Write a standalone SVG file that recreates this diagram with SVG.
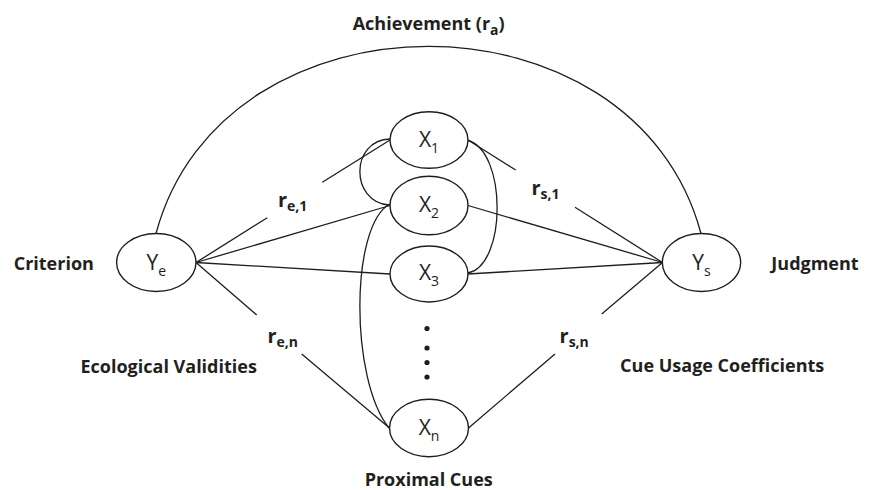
<svg xmlns="http://www.w3.org/2000/svg" width="875" height="490" viewBox="0 0 875 490">
  <style>
    .node ellipse { fill: #ffffff; stroke: #1e1e1e; stroke-width: 1.4; }
    .link { fill: none; stroke: #1e1e1e; stroke-width: 1.3; }
    .nlabel { font-family: "Open Sans", "Liberation Sans", sans-serif; font-size: 21px; fill: #231f20; text-anchor: middle; }
    .nsub { font-size: 14px; }
    .title { font-family: "Open Sans", "Liberation Sans", sans-serif; font-weight: bold; font-size: 18px; fill: #231f20; text-anchor: middle; }
    .coef { font-family: "Open Sans", "Liberation Sans", sans-serif; font-weight: bold; font-size: 20px; fill: #231f20; text-anchor: middle; }
    .csub { font-size: 14px; }
    .dot { fill: #1e1e1e; }
  </style>

  <!-- connectors -->
  <g id="connectors">
    <!-- achievement arc between criterion and judgment -->
    <path class="link" d="M156,233.5 C223,-16 634,-16 701,233.5"/>

    <!-- criterion side (ecological validities) -->
    <path class="link" d="M196,262.5 L267.3,217.7 M322.3,182.3 L390,140"/>
    <path class="link" d="M196,262.5 L390,205.5"/>
    <path class="link" d="M196,262.5 L390,274"/>
    <path class="link" d="M196,262.5 L256.7,315 M301.7,354 L389.5,428"/>

    <!-- judgment side (cue usage coefficients) -->
    <path class="link" d="M468,140 L515.7,170 M575,207.3 L662.5,262.5"/>
    <path class="link" d="M468,205.5 L662.5,262.5"/>
    <path class="link" d="M468,274 L662.5,262.5"/>
    <path class="link" d="M662.5,262.5 L601.7,314 M555,354 L468.5,428"/>

    <!-- intercorrelations among cues -->
    <path class="link" d="M390,139 C350,140 350,202 389,205"/>
    <path class="link" d="M467,140 C507,150 507,265 468,273"/>
    <path class="link" d="M390,204 C350,225 350,380 389,428"/>
  </g>

  <!-- ellipsis between X3 and Xn -->
  <g id="ellipsis">
    <circle class="dot" cx="427" cy="328.5" r="2.6"/>
    <circle class="dot" cx="427" cy="348" r="2.6"/>
    <circle class="dot" cx="427" cy="362.5" r="2.6"/>
    <circle class="dot" cx="427" cy="377" r="2.6"/>
  </g>

  <!-- nodes -->
  <g id="node-ye" class="node">
    <ellipse cx="156.3" cy="262.5" rx="39.7" ry="29"/>
    <text class="nlabel" x="156.3" y="270">Y<tspan class="nsub" dy="6">e</tspan></text>
  </g>
  <g id="node-ys" class="node">
    <ellipse cx="701.5" cy="262.5" rx="39.2" ry="29"/>
    <text class="nlabel" x="701.5" y="270">Y<tspan class="nsub" dy="6">s</tspan></text>
  </g>
  <g id="node-x1" class="node">
    <ellipse cx="429" cy="140" rx="39" ry="28.3"/>
    <text class="nlabel" x="429" y="147">X<tspan class="nsub" dy="6">1</tspan></text>
  </g>
  <g id="node-x2" class="node">
    <ellipse cx="429" cy="205.5" rx="39" ry="29.3"/>
    <text class="nlabel" x="429" y="212">X<tspan class="nsub" dy="6">2</tspan></text>
  </g>
  <g id="node-x3" class="node">
    <ellipse cx="429" cy="274" rx="39" ry="28"/>
    <text class="nlabel" x="429" y="280">X<tspan class="nsub" dy="6">3</tspan></text>
  </g>
  <g id="node-xn" class="node">
    <ellipse cx="429" cy="428" rx="39.5" ry="28.7"/>
    <text class="nlabel" x="429" y="435">X<tspan class="nsub" dy="6">n</tspan></text>
  </g>

  <!-- coefficient labels -->
  <g id="coefficients">
    <text class="coef" x="292.7" y="206.7">r<tspan class="csub" dy="4">e,1</tspan></text>
    <text class="coef" x="282.7" y="342.7">r<tspan class="csub" dy="4">e,n</tspan></text>
    <text class="coef" x="545.5" y="195">r<tspan class="csub" dy="4">s,1</tspan></text>
    <text class="coef" x="574.2" y="342.7">r<tspan class="csub" dy="4">s,n</tspan></text>
  </g>

  <!-- section titles -->
  <g id="titles">
    <text class="title" x="428.7" y="30">Achievement (r<tspan class="csub" dy="5">a</tspan><tspan dy="-5">)</tspan></text>
    <text class="title" x="53.8" y="270">Criterion</text>
    <text class="title" x="815" y="270">Judgment</text>
    <text class="title" x="168.7" y="373">Ecological Validities</text>
    <text class="title" x="722.2" y="372">Cue Usage Coefficients</text>
    <text class="title" x="428.7" y="486">Proximal Cues</text>
  </g>
</svg>
